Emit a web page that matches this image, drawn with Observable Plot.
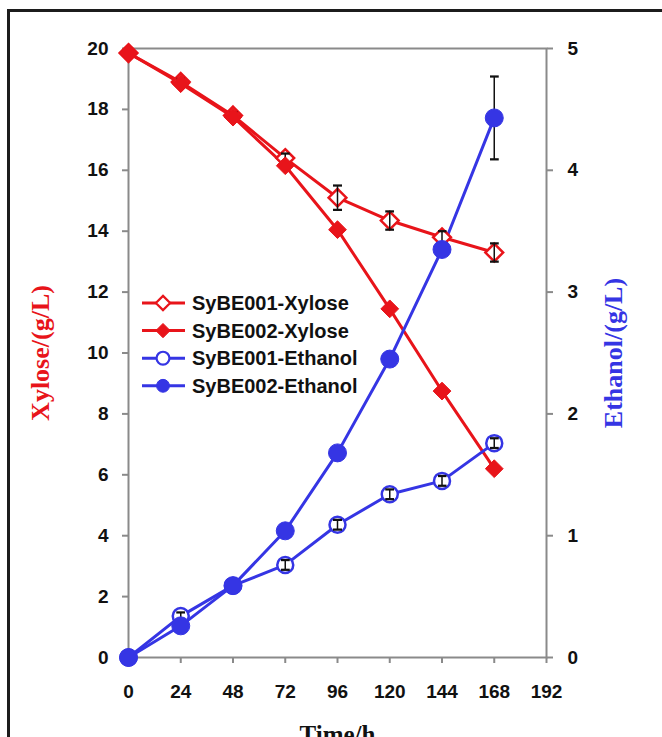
<!DOCTYPE html>
<html>
<head>
<meta charset="utf-8">
<script src="https://cdn.jsdelivr.net/npm/d3@7"></script>
<script src="https://cdn.jsdelivr.net/npm/@observablehq/plot@0.6"></script>
<style>
  html, body { margin: 0; padding: 0; background: #fff; }
  #wrap { position: relative; width: 662px; height: 737px; overflow: hidden; }
  #border { position: absolute; left: 7px; top: 9px; width: 700px; height: 800px;
            border-top: 3px solid #1c1c1c; border-left: 3px solid #1c1c1c; }
  #chart { position: absolute; left: 0; top: 0; }
  #legend { position: absolute; left: 130px; top: 288px; }
</style>
</head>
<body>
<div id="wrap">
  <div id="border"></div>
  <div id="chart"></div>
  <div id="legend"></div>
</div>
<script>
// ---- data ----
const times = [0, 24, 48, 72, 96, 120, 144, 168];
const xylose001 = [19.85, 18.9, 17.8, 16.4, 15.1, 14.35, 13.8, 13.3];
const xylose001Err = [0.08, 0.1, 0.1, 0.15, 0.4, 0.3, 0.2, 0.3];
const xylose002 = [19.85, 18.85, 17.75, 16.15, 14.05, 11.45, 8.75, 6.2];
const xylose002Err = [0.05, 0.05, 0.05, 0.05, 0.05, 0.05, 0.05, 0.05];
const ethanol001 = [0, 0.34, 0.59, 0.76, 1.09, 1.34, 1.45, 1.76];
const ethanol001Err = [0, 0.03, 0.02, 0.04, 0.04, 0.04, 0.04, 0.04];
const ethanol002 = [0, 0.26, 0.59, 1.04, 1.68, 2.45, 3.35, 4.43];
const ethanol002Err = [0, 0.03, 0.02, 0.03, 0.03, 0.03, 0.03, 0.34];
const seriesNames = ["SyBE001-Xylose", "SyBE002-Xylose", "SyBE001-Ethanol", "SyBE002-Ethanol"];
const xTicks = [0, 24, 48, 72, 96, 120, 144, 168, 192];
const xyloseTicks = [0, 2, 4, 6, 8, 10, 12, 14, 16, 18, 20];
const ethanolTicks = [0, 1, 2, 3, 4, 5];

const RED = "#e8141a";
const BLUE = "#3535e4";
const ratio = 20 / 5; // ethanol -> xylose axis units

const specs = [
  {name: seriesNames[0], vals: xylose001, err: xylose001Err, k: 1, color: RED, symbol: "diamond2", open: true},
  {name: seriesNames[1], vals: xylose002, err: xylose002Err, k: 1, color: RED, symbol: "diamond2", open: false},
  {name: seriesNames[2], vals: ethanol001, err: ethanol001Err, k: ratio, color: BLUE, symbol: "circle", open: true},
  {name: seriesNames[3], vals: ethanol002, err: ethanol002Err, k: ratio, color: BLUE, symbol: "circle", open: false}
];
const rows = specs.map(s => times.map((t, i) => ({
  t, y: s.vals[i] * s.k, lo: (s.vals[i] - s.err[i]) * s.k, hi: (s.vals[i] + s.err[i]) * s.k
})));

const font = "'Liberation Sans', Arial, sans-serif";
const serif = "'Liberation Serif', 'Times New Roman', serif";
const axisCommon = {stroke: "#8a8a8a", strokeWidth: 2, fill: "#111", fontSize: 19, fontWeight: "bold", tickSize: 6, label: null};

const marks = [
  Plot.frame({stroke: "#8a8a8a", strokeWidth: 2}),
  Plot.axisX({...axisCommon, ticks: xTicks, tickPadding: 21}),
  Plot.axisY({...axisCommon, anchor: "left", ticks: xyloseTicks, tickPadding: 14}),
  Plot.axisY({...axisCommon, anchor: "right", ticks: ethanolTicks.map(d => d * ratio), tickFormat: d => d / ratio, tickPadding: 15})
];
// lines
specs.forEach((s, i) => marks.push(Plot.line(rows[i], {x: "t", y: "y", stroke: s.color, strokeWidth: 3})));
// open markers
specs.forEach((s, i) => { if (s.open) marks.push(Plot.dot(rows[i], {x: "t", y: "y", symbol: s.symbol, r: 8, stroke: s.color, strokeWidth: 2.5, fill: "white"})); });
// error bars
specs.forEach((s, i) => marks.push(Plot.link(rows[i], {x1: "t", x2: "t", y1: "lo", y2: "hi", stroke: "#111", strokeWidth: 1.5, marker: "tick"})));
// filled markers
specs.forEach((s, i) => { if (!s.open) marks.push(Plot.dot(rows[i], {x: "t", y: "y", symbol: s.symbol, r: s.symbol === "circle" ? 9 : 8, fill: s.color, stroke: s.color, strokeWidth: 1})); });
// axis titles
marks.push(
  Plot.text(["Xylose/(g/L)"], {frameAnchor: "left", textAnchor: "middle", dx: -88, rotate: -90, fill: RED, fontSize: 26, fontWeight: "bold", fontFamily: serif}),
  Plot.text(["Ethanol/(g/L)"], {frameAnchor: "right", textAnchor: "middle", dx: 67, rotate: -90, fill: BLUE, fontSize: 26, fontWeight: "bold", fontFamily: serif}),
  Plot.text(["Time/h"], {frameAnchor: "bottom", dy: 68, lineAnchor: "top", fill: "#111", fontSize: 25, fontWeight: "bold", fontFamily: serif})
);

const chart = Plot.plot({
  width: 662,
  height: 737,
  marginLeft: 128,
  marginRight: 116,
  marginTop: 48,
  marginBottom: 80,
  x: {domain: [0, 192]},
  y: {domain: [0, 20]},
  style: {fontFamily: font, fontSize: "19px", background: "transparent", overflow: "visible"},
  marks
});
document.getElementById("chart").appendChild(chart);

// legend
const lg = d3.select("#legend").append("svg").attr("width", 280).attr("height", 112);
specs.forEach((s, i) => {
  const y = 15 + i * 27.6;
  const g = lg.append("g").attr("transform", `translate(0,${y})`);
  g.append("line").attr("x1", 12).attr("x2", 55).attr("y1", 0).attr("y2", 0).attr("stroke", s.color).attr("stroke-width", 3);
  const sym = d3.symbol(s.symbol === "circle" ? d3.symbolCircle : d3.symbolDiamond2, 130)();
  g.append("path").attr("d", sym).attr("transform", "translate(33,0)")
    .attr("fill", s.open ? "white" : s.color).attr("stroke", s.color).attr("stroke-width", s.open ? 2.2 : 1);
  g.append("text").attr("x", 62).attr("y", 0).attr("dy", "0.35em")
    .attr("font-family", font).attr("font-size", 20).attr("font-weight", "bold").attr("fill", "#111")
    .text(s.name);
});
</script>
</body>
</html>
